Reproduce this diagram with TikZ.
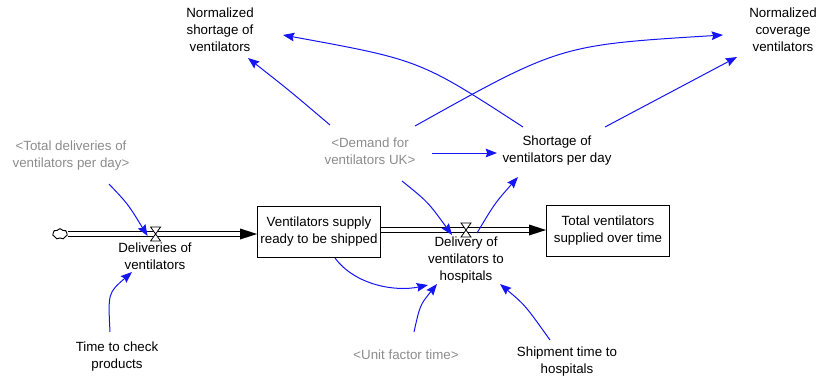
\documentclass[tikz,border=0pt]{standalone}
\usepackage{fontspec}
\setmainfont{Liberation Sans}
\usetikzlibrary{arrows.meta,calc,shapes.symbols}
\definecolor{shadowgray}{RGB}{140,140,140}
\definecolor{linkblue}{RGB}{20,20,245}
\tikzset{
  lab/.style={font=\fontsize{10}{12.75}\selectfont, align=center, inner sep=1pt},
  shadowlab/.style={lab, text=shadowgray},
  stockbox/.style={lab, draw, line width=0.9pt, minimum width=92pt, minimum height=38pt, inner sep=2pt},
  link/.style={linkblue, line width=0.75pt, -{Stealth[length=8.5pt,width=6.5pt,inset=1.2pt]}},
  pipeline/.style={black, line width=0.8pt},
  valveshape/.style={fill=white, draw=black, line width=0.6pt},
}
\begin{document}
\begin{tikzpicture}[x=0.75pt,y=-0.75pt]
\useasboundingbox (0,0) rectangle (819,383);
% variables
\node[lab] (nsh) at (220,30) {Normalized\\shortage of\\ventilators};
\node[lab] (ncov) at (783,30) {Normalized\\coverage\\ventilators};
\node[shadowlab] (dem) at (370,151) {<Demand for\\ventilators UK>};
\node[lab] (sho) at (557,151) {Shortage of\\ventilators per day};
\node[shadowlab] (tdel) at (71,156) {<Total deliveries of\\ventilators per day>};
\node[lab] (ttc) at (117,357) {Time to check\\products};
\node[shadowlab] (uft) at (406,355) {<Unit factor time>};
\node[lab] (shp) at (567,362) {Shipment time to\\hospitals};
% stocks
\node[stockbox] (s1) at (319,232) {Ventilators supply\\ready to be shipped};
\node[stockbox] (s2) at (608,231) {Total ventilators\\supplied over time};
% cloud
\node[cloud, draw, cloud puffs=7, cloud puff arc=120, minimum width=11pt, minimum height=8pt, inner sep=0pt, line width=0.7pt] (cld) at (60,234) {};
% flow 1
\coordinate (p1e) at (s1.west |- cld.east);
\draw[pipeline] ($(cld.east)+(0,-2.5)$) -- ($(p1e)+(-12,-2.5)$);
\draw[pipeline] ($(cld.east)+(0,2.5)$) -- ($(p1e)+(-12,2.5)$);
\fill (p1e) -- ++(-17,-5.5) -- ++(0,11) -- cycle;
\coordinate (v1) at ($(cld.east)!0.464!(p1e)$);
\node[lab] (dl1) at (155,256) {Deliveries of\\ventilators};
% flow 2
\coordinate (p2s) at (s1.east |- v1);
\coordinate (p2s) at ($(p2s)+(0,-4)$);
\coordinate (p2e) at (s2.west |- p2s);
\draw[pipeline] ($(p2s)+(0,-2.5)$) -- ($(p2e)+(-12,-2.5)$);
\draw[pipeline] ($(p2s)+(0,2.5)$) -- ($(p2e)+(-12,2.5)$);
\fill (p2e) -- ++(-17,-5.5) -- ++(0,11) -- cycle;
\coordinate (v2) at (466,230);
\node[lab] (dl2) at (466,260) {Delivery of\\ventilators to\\hospitals};
% valves
\draw[valveshape] ($(v1)+(-5,-7)$) -- ++(10,0) -- ++(-10,14) -- ++(10,0) -- cycle;
\draw[valveshape] ($(v2)+(-5,-7)$) -- ++(10,0) -- ++(-10,14) -- ++(10,0) -- cycle;
% links
\draw[link] ($(dem)+(-40,-26)$) .. controls ($(dem)+(-80,-60)$) .. ($(nsh)+(28,28)$);
\draw[link] ($(sho)+(-34,-24)$) .. controls (420,60) .. ($(nsh)+(63,5)$);
\draw[link] ($(dem)+(45,-25)$) .. controls (560,45) .. ($(ncov)+(-60,5)$);
\draw[link] ($(sho)+(48,-24)$) -- ($(ncov)+(-46,27)$);
\draw[link] ($(dem)+(62,2)$) -- ($(sho)+(-60,2)$);
\draw[link] ($(dem)+(32,30)$) .. controls (428,202) .. ($(v2)+(-14,5)$);
\draw[link] ($(v2)+(11,3)$) .. controls (495,203) .. ($(sho)+(-39,26)$);
\draw[link] ($(tdel)+(38,28)$) .. controls (128,204) .. ($(v1)+(-8,2)$);
\draw[link] ($(ttc)+(-7,-25)$) .. controls (108,293) .. ($(dl1)+(-23,16)$);
\draw[link] ($(s1)+(16,26)$) .. controls (355,285) and (395,292) .. ($(dl2)+(-38,25)$);
\draw[link] ($(uft)+(8,-23)$) .. controls (420,305) .. ($(dl2)+(-29,24)$);
\draw[link] ($(shp)+(-17,-22)$) .. controls (525,305) .. ($(dl2)+(34,24)$);
\end{tikzpicture}
\end{document}
